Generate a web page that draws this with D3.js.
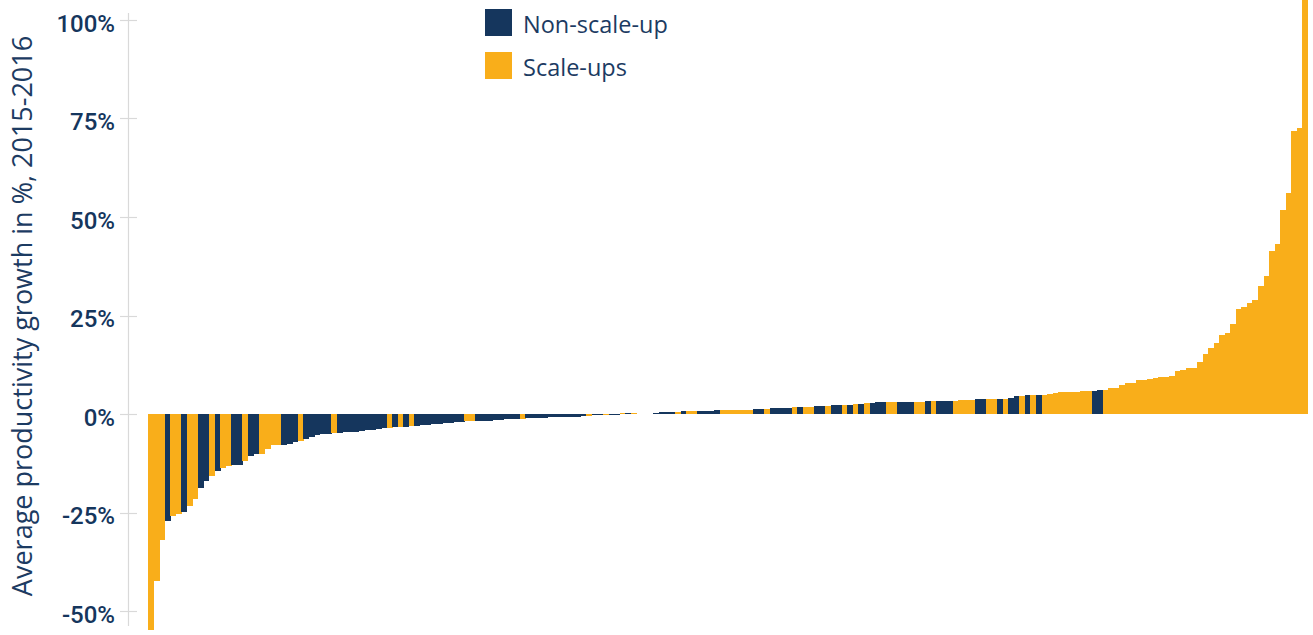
<!DOCTYPE html>
<html>
<head>
<meta charset="utf-8">
<script src="https://cdn.jsdelivr.net/npm/d3@7"></script>
<style>
  html, body { margin: 0; padding: 0; background: #ffffff; }
  svg { display: block; }
</style>
</head>
<body>
<svg id="chart" width="1313" height="635"></svg>
<script>
// ---- DATA ----
const values = [
  -54.8, -42.4, -32.0, -27.2, -25.9, -25.4, -24.9, -23.4, -21.6, -18.8,
  -17.0, -15.7, -14.5, -13.7, -13.2, -12.9, -12.9, -11.9, -10.7, -10.2,
  -10.2, -8.9, -7.9, -7.9, -7.9, -7.6, -7.1, -6.9, -6.3, -5.8,
  -5.3, -5.1, -5.1, -4.8, -4.8, -4.6, -4.6, -4.6, -4.3, -4.1,
  -4.1, -3.8, -3.6, -3.6, -3.4, -3.3, -3.2, -3.1, -3.1, -2.8,
  -2.8, -2.5, -2.5, -2.3, -2.3, -2.0, -2.0, -1.8, -1.8, -1.8,
  -1.8, -1.7, -1.5, -1.5, -1.3, -1.3, -1.3, -1.2, -1.0, -1.0,
  -1.0, -1.0, -0.8, -0.8, -0.8, -0.8, -0.8, -0.75, -0.5, -0.5,
  -0.3, -0.3, -0.3, -0.25, -0.25, 0.25, 0.25, 0.25, 0.1, 0.1,
  0.1, 0.15, 0.5, 0.5, 0.5, 0.5, 0.75, 0.75, 0.75, 0.8,
  0.8, 0.8, 1.0, 1.0, 1.0, 1.0, 1.0, 1.0, 1.0, 1.3,
  1.3, 1.3, 1.5, 1.5, 1.5, 1.5, 1.8, 1.8, 1.8, 1.8,
  2.0, 2.0, 2.0, 2.3, 2.3, 2.3, 2.3, 2.5, 2.5, 2.8,
  2.8, 3.05, 3.05, 3.05, 3.05, 3.05, 3.05, 3.05, 3.05, 3.05,
  3.3, 3.3, 3.3, 3.3, 3.3, 3.4, 3.6, 3.6, 3.6, 3.8,
  3.8, 3.8, 3.8, 3.8, 3.8, 4.1, 4.6, 4.6, 4.8, 4.8,
  4.8, 4.8, 5.1, 5.3, 5.6, 5.6, 5.6, 5.6, 5.85, 5.85,
  5.85, 6.1, 6.1, 6.6, 6.6, 7.4, 7.9, 7.9, 8.6, 8.6,
  8.9, 9.15, 9.4, 9.4, 9.7, 10.9, 11.2, 11.7, 11.7, 13.2,
  15.2, 16.8, 18.0, 20.1, 20.6, 22.8, 26.6, 27.2, 28.2, 28.9,
  32.5, 35.0, 41.4, 43.1, 51.8, 56.1, 71.8, 72.6, 110
];
// N = Non-scale-up, S = Scale-ups
const groups = (
  "SSSNSSNSSN" + "NSNSSNNSNN" + "SSSSNNNSNN" + "NNNSNNNNNN" +
  "NNNSNSNSNN" + "NNNNNNNSSN" + "NNNNNNNSNN" + "NNNNNNNNNS" +
  "NNSNNSNSNN" + "NNNNNSNSSN" + "NNNSSSSSSN" + "NSNNNNSNSS" +
  "NNSNNSNSNS" + "NNNSSNNNSS" + "NSNNNSSSSN" + "NSSNSNNSNS" +
  "NSSSSSSSSS" + "NNSSSSSSSS" + "SSSSSSSSSS" + "SSSSSSSSSS" +
  "SSSSSSSSS"
).split("");
const seriesNames = ["Non-scale-up", "Scale-ups"];
const seriesKeys = ["N", "S"];
const tickValues = [-50, -25, 0, 25, 50, 75, 100];
const tickLabels = ["-50%", "-25%", "0%", "25%", "50%", "75%", "100%"];
const yTitle = "Average productivity growth in %, 2015-2016";

// ---- CHART ----
const NAVY = "#15365d";
const GOLD = "#f9ae1a";
const color = d3.scaleOrdinal().domain(seriesKeys).range([NAVY, GOLD]);

const svg = d3.select("#chart");
const data = values.map((v, i) => ({ i, v, g: groups[i] }));

const x = d3.scaleBand().domain(d3.range(values.length)).range([148, 1308]).paddingInner(0).paddingOuter(0);
const y = d3.scaleLinear().domain([-50, 100]).range([611, 20]);

// axis line + ticks
const axisG = svg.append("g");
axisG.append("line")
  .attr("x1", 128.5).attr("x2", 128.5)
  .attr("y1", 13).attr("y2", 626)
  .attr("stroke", "#d9d9d9").attr("stroke-width", 1.2);
axisG.selectAll("line.tick").data(tickValues).join("line")
  .attr("class", "tick")
  .attr("x1", 120).attr("x2", 137)
  .attr("y1", d => Math.round(y(d)) + 0.5).attr("y2", d => Math.round(y(d)) + 0.5)
  .attr("stroke", "#d9d9d9").attr("stroke-width", 1.2);
axisG.selectAll("text.tick").data(tickValues).join("text")
  .attr("class", "tick")
  .attr("x", 115)
  .attr("y", d => y(d) + 3)
  .attr("dy", "0.36em")
  .attr("text-anchor", "end")
  .attr("font-family", "Roboto, 'Open Sans', sans-serif")
  .attr("font-weight", 500)
  .attr("font-size", 24)
  .attr("fill", NAVY)
  .text((d, i) => tickLabels[i]);

// bars
svg.append("g").selectAll("rect").data(data).join("rect")
  .attr("x", d => x(d.i))
  .attr("width", x.bandwidth() + 0.4)
  .attr("y", d => y(Math.max(0, d.v)))
  .attr("height", d => Math.abs(y(d.v) - y(0)))
  .attr("fill", d => color(d.g))
  .attr("shape-rendering", "crispEdges");

// y title
svg.append("text")
  .attr("transform", "translate(32,316) rotate(-90)")
  .attr("text-anchor", "middle")
  .attr("font-family", "'Open Sans', sans-serif")
  .attr("font-size", 27)
  .attr("fill", "#1c3b62")
  .text(yTitle);

// legend
const leg = svg.append("g");
seriesKeys.forEach((k, i) => {
  const gy = 9 + i * 43;
  leg.append("rect").attr("x", 485).attr("y", gy).attr("width", 27).attr("height", 27).attr("fill", color(k));
  leg.append("text").attr("x", 523).attr("y", gy + 24)
    .attr("font-family", "'Open Sans', sans-serif")
    .attr("font-size", 23.5)
    .attr("fill", "#1c3b62")
    .text(seriesNames[i]);
});
</script>
</body>
</html>
